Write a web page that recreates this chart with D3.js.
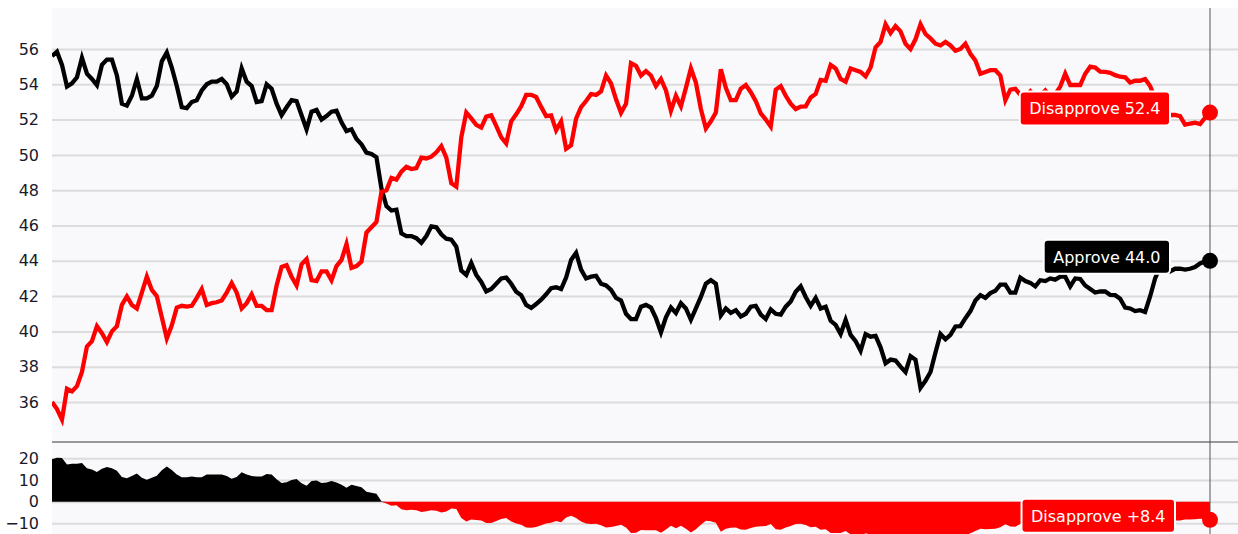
<!DOCTYPE html>
<html>
<head>
<meta charset="utf-8">
<script src="https://cdn.jsdelivr.net/npm/d3@7"></script>
<style>
  body { margin: 0; background: #fff; }
  svg { display: block; }
  text { font-family: "DejaVu Sans", Verdana, sans-serif; }
</style>
</head>
<body>
<div id="chart"></div>
<script>
// approval polling average, one reading per step, oldest first
const approve = [
  55.6, 55.85, 55.1, 53.87, 54.05, 54.4, 55.5, 54.6, 54.3, 53.95,
  55.1, 55.4, 55.4, 54.5, 52.9, 52.8, 53.35, 54.3, 53.2, 53.2,
  53.35, 53.9, 55.3, 55.8, 54.95, 53.9, 52.7, 52.65, 53.0, 53.1,
  53.65, 54.0, 54.15, 54.15, 54.3, 54.0, 53.3, 53.6, 54.9, 54.15,
  53.9, 53.0, 53.05, 54.0, 53.75, 52.9, 52.25, 52.7, 53.1, 53.05,
  52.25, 51.45, 52.45, 52.55, 52.0, 52.2, 52.45, 52.5, 51.85, 51.35,
  51.45, 50.9, 50.6, 50.13, 50.05, 49.87, 48.1, 47.1, 46.85, 46.9,
  45.55, 45.4, 45.4, 45.28, 45.02, 45.4, 45.95, 45.9, 45.5, 45.25,
  45.2, 44.8, 43.45, 43.2, 43.87, 43.2, 42.8, 42.26, 42.4, 42.7,
  43.0, 43.05, 42.7, 42.25, 42.05, 41.5, 41.33, 41.55, 41.8, 42.1,
  42.45, 42.5, 42.4, 43.05, 44.05, 44.45, 43.5, 43.0, 43.1, 43.15,
  42.7, 42.6, 42.35, 41.9, 41.75, 41.0, 40.7, 40.7, 41.4, 41.5,
  41.35, 40.75, 39.95, 40.8, 41.35, 41.04, 41.6, 41.3, 40.66, 41.3,
  41.95, 42.7, 42.9, 42.7, 40.9, 41.3, 41.05, 41.2, 40.85, 41.0,
  41.4, 41.45, 40.95, 40.7, 41.25, 41.0, 40.95, 41.4, 41.7, 42.25,
  42.55, 41.95, 41.45, 41.9, 41.3, 41.4, 40.6, 40.37, 39.85, 40.65,
  39.8, 39.45, 38.9, 39.85, 39.7, 39.75, 39.1, 38.2, 38.4, 38.35,
  38.0, 37.7, 38.6, 38.4, 36.8, 37.2, 37.7, 38.8, 39.85, 39.55,
  39.8, 40.28, 40.3, 40.75, 41.15, 41.75, 42.05, 41.9, 42.17, 42.3,
  42.65, 42.65, 42.2, 42.2, 43.05, 42.85, 42.75, 42.55, 42.9, 42.85,
  43.0, 42.93, 43.1, 43.1, 42.55, 43.0, 42.97, 42.6, 42.4, 42.2,
  42.26, 42.26, 42.07, 42.05, 41.85, 41.35, 41.3, 41.15, 41.2, 41.1,
  41.98, 43.0, 43.65, 43.5, 43.4, 43.55, 43.55, 43.5, 43.55, 43.65,
  43.85, 43.97, 44.0
];

const disapprove = [
  36.0, 35.6, 35.0, 36.75, 36.6, 36.9, 37.7, 39.15, 39.45, 40.3,
  39.9, 39.4, 40.0, 40.3, 41.5, 41.98, 41.5, 41.3, 42.2, 43.1,
  42.35, 42.0, 40.8, 39.6, 40.35, 41.35, 41.45, 41.4, 41.45, 41.9,
  42.4, 41.5, 41.6, 41.65, 41.75, 42.2, 42.74, 42.2, 41.3, 41.6,
  42.1, 41.45, 41.45, 41.2, 41.2, 42.6, 43.65, 43.75, 43.1, 42.6,
  43.8, 44.1, 42.9, 42.85, 43.4, 43.4, 42.9, 43.7, 44.05, 44.95,
  43.6, 43.7, 43.95, 45.6, 45.9, 46.2, 47.9, 48.0, 48.7, 48.6,
  49.05, 49.32, 49.2, 49.25, 49.85, 49.8, 49.9, 50.15, 50.5, 49.85,
  48.4, 48.2, 51.0, 52.4, 52.07, 51.7, 51.55, 52.17, 52.24, 51.65,
  51.0, 50.65, 51.9, 52.3, 52.75, 53.4, 53.4, 53.28, 52.72, 52.2,
  52.24, 51.4, 51.9, 50.35, 50.55, 52.05, 52.7, 53.05, 53.45, 53.4,
  53.6, 54.5, 54.05, 53.15, 52.38, 52.9, 55.2, 55.05, 54.5, 54.75,
  54.5, 53.9, 54.3, 53.65, 52.5, 53.35, 52.75, 53.8, 54.9, 54.1,
  52.6, 51.5, 51.9, 52.4, 54.85, 53.8, 53.1, 53.1, 53.75, 53.96,
  53.55, 53.05, 52.35, 52.0, 51.6, 53.7, 53.9, 53.35, 52.9, 52.6,
  52.74, 52.75, 53.25, 53.45, 54.25, 54.2, 55.1, 54.9, 54.3, 54.15,
  54.9, 54.8, 54.7, 54.45, 54.95, 56.1, 56.4, 57.4, 56.9, 57.3,
  57.0, 56.3, 56.0, 56.55, 57.4, 56.85, 56.6, 56.3, 56.2, 56.4,
  56.2, 55.9, 56.0, 56.3, 55.73, 55.35, 54.6, 54.7, 54.8, 54.8,
  54.5, 53.1, 53.7, 53.75, 53.4, 53.3, 53.6, 53.25, 53.35, 53.65,
  53.3, 53.45, 53.87, 54.6, 53.96, 53.96, 53.96, 54.6, 55.0, 54.95,
  54.72, 54.7, 54.65, 54.52, 54.43, 54.4, 54.1, 54.2, 54.2, 54.3,
  53.9, 53.2, 52.6, 52.3, 52.26, 52.26, 52.2, 51.72, 51.77, 51.82,
  51.75, 52.1, 52.4
];

const mainTicks = [36, 38, 40, 42, 44, 46, 48, 50, 52, 54, 56];
const netTicks = [-10, 0, 10, 20];

const W = 1238, H = 534;
const plotLeft = 52, plotRight = 1238, plotTop = 8, split = 442, lastX = 1210;

const net = approve.map((a, i) => a - disapprove[i]);

const svg = d3.select('#chart').append('svg')
  .attr('width', W)
  .attr('height', H);

const x = d3.scaleLinear().domain([0, approve.length - 1]).range([plotLeft, lastX]);
const y = d3.scaleLinear().domain([36, 56]).range([402, 49]);
const yNet = d3.scaleLinear().domain([-10, 20]).range([523.3, 458.3]);

// plot background
svg.append('rect')
  .attr('x', plotLeft).attr('y', plotTop)
  .attr('width', plotRight - plotLeft).attr('height', H - plotTop)
  .attr('fill', '#f9f9fc');

const defs = svg.append('defs');
defs.append('clipPath').attr('id', 'clipMain')
  .append('rect').attr('x', plotLeft).attr('y', plotTop).attr('width', plotRight - plotLeft).attr('height', split - plotTop);
defs.append('clipPath').attr('id', 'clipNet')
  .append('rect').attr('x', plotLeft).attr('y', split).attr('width', plotRight - plotLeft).attr('height', H - split);

// axes with gridlines
const drawAxis = (scale, ticks) => {
  const g = svg.append('g')
    .attr('transform', `translate(${plotLeft},0)`)
    .call(d3.axisLeft(scale).tickValues(ticks).tickSize(-(plotRight - plotLeft)).tickPadding(13).tickFormat(d3.format('d')));
  g.select('.domain').remove();
  g.selectAll('.tick line').attr('stroke', '#dcdcdc').attr('stroke-width', 2);
  g.selectAll('.tick text').attr('fill', '#1a1a2a').style('font-size', '16px');
};
drawAxis(y, mainTicks);
drawAxis(yNet, netTicks);

// net area, black above zero, red below
const netG = svg.append('g').attr('clip-path', 'url(#clipNet)');
netG.append('path')
  .datum(net)
  .attr('fill', '#000')
  .attr('d', d3.area().x((d, i) => x(i)).y0(yNet(0)).y1(d => yNet(Math.max(0, d))));
netG.append('path')
  .datum(net)
  .attr('fill', '#ff0000')
  .attr('d', d3.area().x((d, i) => x(i)).y0(yNet(0)).y1(d => yNet(Math.min(0, d))));

// main lines
const line = d3.line().x((d, i) => x(i)).y(d => y(d));
const mainG = svg.append('g').attr('clip-path', 'url(#clipMain)');
mainG.append('path').datum(approve)
  .attr('fill', 'none').attr('stroke', '#000').attr('stroke-width', 4.3)
  .attr('d', line);
mainG.append('path').datum(disapprove)
  .attr('fill', 'none').attr('stroke', '#ff0000').attr('stroke-width', 4.3)
  .attr('d', line);

// divider between panels
svg.append('line')
  .attr('x1', plotLeft).attr('x2', plotRight).attr('y1', split).attr('y2', split)
  .attr('stroke', '#777').attr('stroke-width', 1.5);

// current date marker
svg.append('line')
  .attr('x1', lastX).attr('x2', lastX).attr('y1', plotTop).attr('y2', H)
  .attr('stroke', '#555').attr('stroke-width', 1);

const n = approve.length - 1;
const fmt = d3.format('.1f');
const lastNet = net[n];

const marks = [
  { text: 'Disapprove ' + fmt(disapprove[n]), color: '#ff0000', cy: y(disapprove[n]), edge: 1170 },
  { text: 'Approve ' + fmt(approve[n]), color: '#000', cy: y(approve[n]), edge: 1170 },
  { text: (lastNet < 0 ? 'Disapprove +' : 'Approve +') + fmt(Math.abs(lastNet)),
    color: lastNet < 0 ? '#ff0000' : '#000', cy: yNet(lastNet), edge: 1175 }
];

marks.forEach(m => {
  svg.append('circle')
    .attr('cx', lastX).attr('cy', m.cy).attr('r', 8)
    .attr('fill', m.color);

  const g = svg.append('g');
  const box = g.append('rect');
  const t = g.append('text')
    .attr('x', m.edge - 9.5)
    .attr('y', m.cy - 4)
    .attr('dy', '0.36em')
    .attr('text-anchor', 'end')
    .attr('fill', '#fff')
    .style('font-size', '16px')
    .text(m.text);
  const w = t.node().getComputedTextLength() + 19;
  box.attr('x', m.edge - w).attr('y', m.cy - 4 - 17)
    .attr('width', w).attr('height', 34)
    .attr('rx', 4)
    .attr('fill', m.color)
    .attr('stroke', '#fff').attr('stroke-width', 2);
});
</script>
</body>
</html>
